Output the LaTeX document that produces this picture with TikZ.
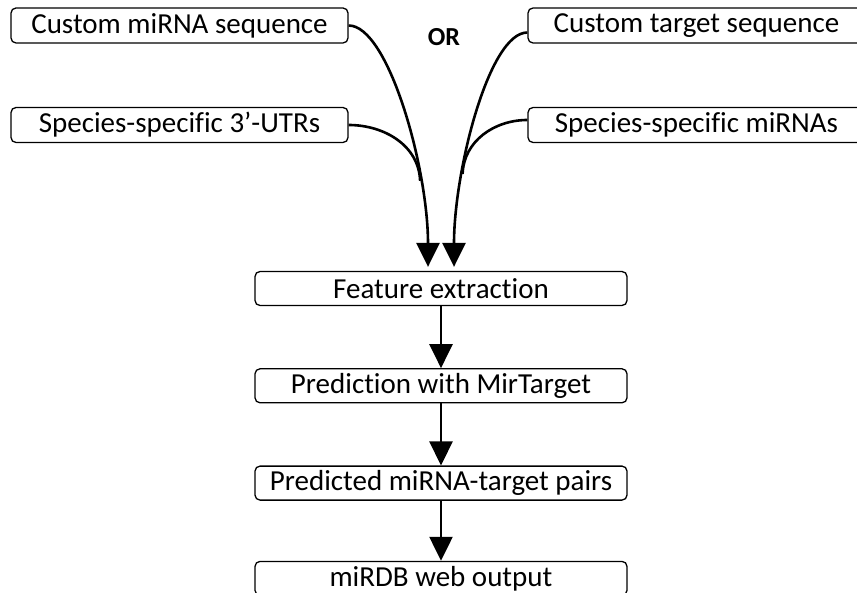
\documentclass[tikz,border=0pt]{standalone}
\usepackage{fontspec}
\setmainfont{Carlito}[Ligatures=NoCommon]
\usepackage{tikz}
\usetikzlibrary{arrows.meta}
\usetikzlibrary{positioning}

\begin{document}
\begin{tikzpicture}[
    	x=1pt, y=-1pt,
    	box/.style={draw, line width=1.3pt, rounded corners=5pt, minimum height=35pt, inner sep=0pt, font=\fontsize{29}{34}\selectfont},
    	inbox/.style={box, minimum width=337pt},
    	stepbox/.style={box, minimum width=372pt, minimum height=34pt},
    	flow/.style={line width=2.6pt, -{Triangle[length=24pt,width=23pt]}},
    	feed/.style={line width=2.6pt},
    	node distance=62pt,
    ]
    \useasboundingbox (0,0) rectangle (857,593);
    \clip (0,0) rectangle (857,593);
    % inputs
    \node[inbox] (cmi) at (179.5,25.5) {Custom miRNA sequence};
    \node[inbox] (utr) at (179.5,125) {Species-specific 3’-UTRs};
    \node[inbox] (cts) at (696.5,25.5) {Custom target sequence};
    \node[inbox] (smi) at (696.5,125) {Species-specific miRNAs};
    \node[font=\fontsize{26}{30}\selectfont\bfseries] (or) at (444,37) {OR};
    % pipeline
    \node[stepbox] (feat) at (441,288.5) {Feature extraction};
    \node[stepbox, below=of feat] (pred) {Prediction with MirTarget};
    \node[stepbox, below=of pred] (pairs) {Predicted miRNA-target pairs};
    \node[stepbox, below=60pt of pairs] (web) {miRDB web output};
    \coordinate (tipL) at ([xshift=-13pt,yshift=4pt]feat.north);
    \coordinate (tipR) at ([xshift=13pt,yshift=4pt]feat.north);
    \draw[flow] (cmi.east) to[out=0, in=90, out looseness=0.4, in looseness=1.0]
        coordinate[pos=0.73] (mergeL) (tipL);
    \draw[flow] ([yshift=-7pt]cts.west) to[out=180, in=90, out looseness=0.4, in looseness=1.0]
        coordinate[pos=0.7] (mergeR) (tipR);
    \draw[feed] (utr.east) to[out=0, in=92] (mergeL);
    \draw[feed] ([yshift=5pt]smi.west) to[out=180, in=88] (mergeR);
    \draw[flow] (feat) -- (pred);
    \draw[flow] (pred) -- (pairs);
    \draw[flow] (pairs) -- (web);
    \end{tikzpicture}
\end{document}
